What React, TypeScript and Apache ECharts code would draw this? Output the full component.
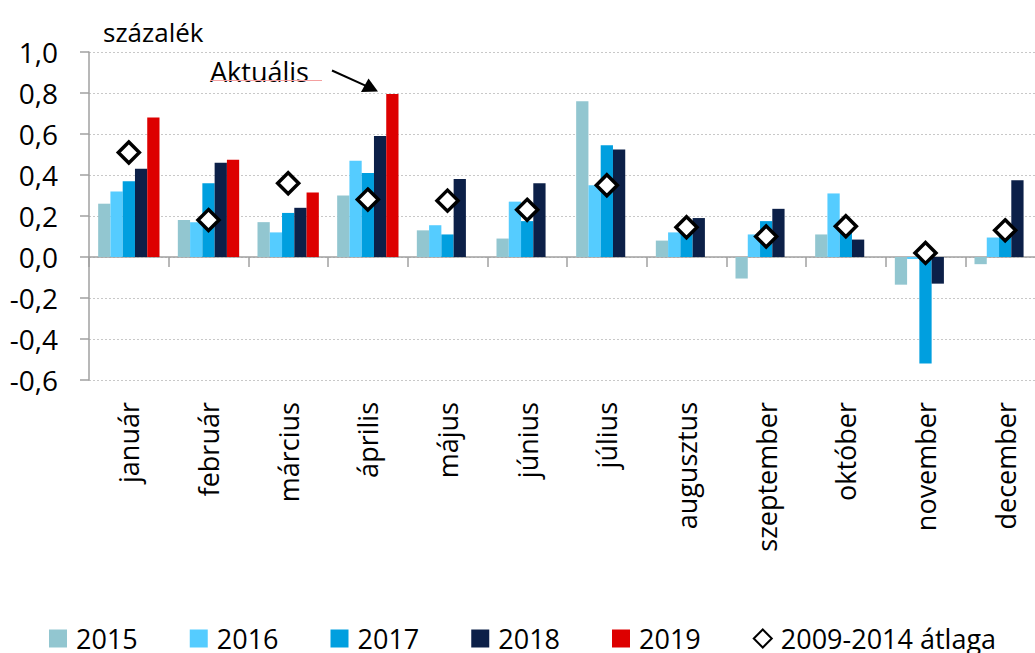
import React, { useEffect, useRef } from "react";
import * as echarts from "echarts";

const months = ["január", "február", "március", "április", "május", "június", "július", "augusztus", "szeptember", "október", "november", "december"];
const seriesNames = ["2015", "2016", "2017", "2018", "2019"];
const avgName = "2009-2014 átlaga";
const s2015 = [0.26, 0.18, 0.17, 0.3, 0.13, 0.09, 0.76, 0.08, -0.105, 0.11, -0.135, -0.035];
const s2016 = [0.32, 0.17, 0.12, 0.47, 0.155, 0.27, 0.35, 0.12, 0.11, 0.31, -0.01, 0.095];
const s2017 = [0.37, 0.36, 0.215, 0.41, 0.11, 0.175, 0.545, 0.12, 0.175, 0.15, -0.52, 0.12];
const s2018 = [0.43, 0.46, 0.24, 0.59, 0.38, 0.36, 0.525, 0.19, 0.235, 0.085, -0.13, 0.375];
const s2019 = [0.68, 0.475, 0.315, 0.795, null, null, null, null, null, null, null, null];
const avg0914 = [0.51, 0.18, 0.36, 0.28, 0.275, 0.23, 0.35, 0.145, 0.1, 0.15, 0.02, 0.13];
const colors = ["#92C6D0", "#55CCFF", "#009FDF", "#0C2048", "#DD0000"];
const yTicks = { min: -0.6, max: 1.0, interval: 0.2 };

const FONT = "'Open Sans', 'Noto Sans', sans-serif";

export default function App() {
  const ref = useRef<HTMLDivElement>(null);
  useEffect(() => {
    const chart = echarts.init(ref.current!, null, { renderer: "svg" });
    const barData = [s2015, s2016, s2017, s2018, s2019];
    const option: any = {
      animation: false,
      backgroundColor: "#ffffff",
      title: {
        text: "százalék",
        left: 98,
        top: 14,
        textStyle: { fontFamily: FONT, fontSize: 26, fontWeight: "normal", color: "#000" },
      },
      grid: { left: 89, right: -10, top: 52, bottom: 273, outerBoundsMode: "none", containLabel: false },
      legend: {
        left: 44,
        top: 620,
        itemWidth: 18,
        itemHeight: 18,
        itemGap: 52,
        textStyle: { fontFamily: FONT, fontSize: 27, color: "#000", padding: [0, 0, 0, 4] },
        data: [
          ...seriesNames.map((n) => ({ name: n, icon: "rect" })),
          { name: avgName },
        ],
      },
      xAxis: {
        type: "category",
        data: months,
        axisLine: { onZero: true, lineStyle: { color: "#A0A0A0", width: 1.5 } },
        axisTick: { show: true, length: 10, lineStyle: { color: "#A0A0A0", width: 1.5 } },
        axisLabel: {
          rotate: 90,
          margin: 22,
          fontFamily: FONT,
          fontSize: 27,
          color: "#000",
          interval: 0,
        },
        splitLine: { show: false },
      },
      yAxis: {
        type: "value",
        min: yTicks.min,
        max: yTicks.max,
        interval: yTicks.interval,
        axisLine: { show: true, lineStyle: { color: "#A0A0A0", width: 1.5 } },
        axisTick: { show: true, inside: false, length: 9, lineStyle: { color: "#A0A0A0", width: 1.5 } },
        axisLabel: {
          margin: 31,
          fontFamily: FONT,
          fontSize: 28,
          color: "#000",
          formatter: (v: number) => v.toFixed(1).replace(".", ","),
        },
        splitLine: { show: true, lineStyle: { color: "#C8C8C8", type: [2, 2], width: 1 } },
      },
      series: [
        ...barData.map((d, i) => ({
          name: seriesNames[i],
          type: "bar",
          data: d,
          barGap: "0%",
          barCategoryGap: "23%",
          itemStyle: { color: colors[i] },
        })),
        {
          name: avgName,
          type: "scatter",
          data: avg0914,
          symbol: "diamond",
          symbolSize: 21,
          z: 5,
          itemStyle: { color: "#ffffff", borderColor: "#000000", borderWidth: 3.5, opacity: 1 },
        },
      ],
      graphic: [
        {
          type: "text",
          x: 210,
          y: 71,
          style: {
            text: "Aktuális",
            font: `27px ${FONT}`,
            fill: "#000",
            align: "left",
            verticalAlign: "middle",
          },
        },
        {
          type: "line",
          shape: { x1: 210, y1: 80.5, x2: 322, y2: 80.5 },
          style: { stroke: "#F4A0A0", lineWidth: 1 },
        },
        {
          type: "line",
          shape: { x1: 332, y1: 70.5, x2: 366, y2: 85.8 },
          style: { stroke: "#000", lineWidth: 2 },
        },
        {
          type: "polygon",
          shape: { points: [[378, 91.5], [361, 92], [368.5, 78.5]] },
          style: { fill: "#000" },
        },
      ],
    };
    chart.setOption(option);
    return () => chart.dispose();
  }, []);
  return (
    <div
      ref={ref}
      style={{ position: "fixed", left: 0, top: 0, width: 1035, height: 653, background: "#fff" }}
    />
  );
}
